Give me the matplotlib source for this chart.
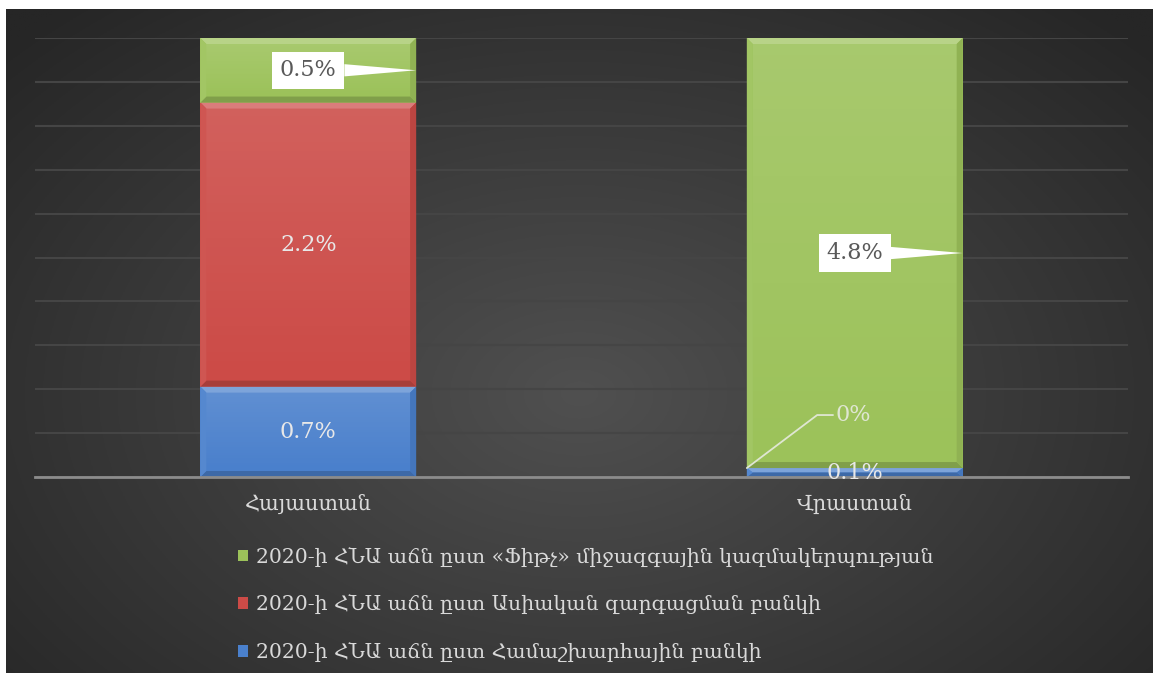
import numpy as np
import matplotlib.pyplot as plt
from matplotlib.patches import Polygon, Rectangle

plt.rcParams['font.family'] = ['DejaVu Serif', 'DejaVu Sans']

# ── data ──────────────────────────────────────────────────────────────
categories = ["Հայաստան", "Վրաստան"]
series_names = [
    "2020-ի ՀՆԱ աճն ըստ Համաշխարհային բանկի",
    "2020-ի ՀՆԱ աճն ըստ Ասիական զարգացման բանկի",
    "2020-ի ՀՆԱ աճն ըստ «Ֆիթչ» միջազգային կազմակերպության",
]
world_bank = [0.7, 0.1]
asian_bank = [2.2, 0.0]
fitch = [0.5, 4.8]

series = [world_bank, asian_bank, fitch]
colors = ["#4a80cc", "#cc4b47", "#9cc25a"]
# how each value label is drawn: plain / callout box / leader line
label_kind = [["plain", "plain"], ["plain", "leader"], ["callout", "callout"]]

W, H = 1153, 675
fig = plt.figure(figsize=(W / 100, H / 100), dpi=100, facecolor="white")

# ── dark radial background ───────────────────────────────────────────
bg = fig.add_axes([6 / W, 2 / H, 1147 / W, 664 / H], zorder=-10)
yy, xx = np.mgrid[0:1:300j, 0:1:500j]
r = np.clip(np.hypot((xx - 0.5) * 1.15, yy - 0.42) / 0.78, 0, 1)
c_in, c_out = np.array([0x50] * 3) / 255, np.array([0x26] * 3) / 255
bg.imshow(c_in + (c_out - c_in) * r[..., None], extent=(0, 1, 0, 1),
          origin="lower", aspect="auto")
bg.axis("off")

# ── main axes ────────────────────────────────────────────────────────
ax_l, ax_b, ax_w, ax_h = 35, 198, 1093, 439
ax = fig.add_axes([ax_l / W, ax_b / H, ax_w / W, ax_h / H])
ax.set_facecolor("none")

totals = np.sum(series, axis=0)
shares = [np.array(s) / totals for s in series]
bar_w = 0.395
px_x = ax_w / 2.0
px_y = ax_h / 1.0


def shade(c, f):
    c = np.array(plt.matplotlib.colors.to_rgb(c))
    return tuple(np.clip(c + (1 - c) * f if f > 0 else c * (1 + f), 0, 1))


bottom = np.zeros(len(categories))
bars = []
for share, col in zip(shares, colors):
    b = ax.bar(range(len(categories)), share, bar_w, bottom=bottom,
               color=col, zorder=3, linewidth=0)
    bars.append(b)
    # bevel look
    for rect in b:
        x0, y0 = rect.get_x(), rect.get_y()
        w, h = rect.get_width(), rect.get_height()
        if h <= 0:
            continue
        x1, y1 = x0 + w, y0 + h
        bx = min(6 / px_x, w / 2)
        by = min(6 / px_y, h / 2)
        polys = [
            ([(x0, y1), (x1, y1), (x1 - bx, y1 - by), (x0 + bx, y1 - by)], 0.28),
            ([(x0, y0), (x1, y0), (x1 - bx, y0 + by), (x0 + bx, y0 + by)], -0.18),
            ([(x0, y0), (x0 + bx, y0 + by), (x0 + bx, y1 - by), (x0, y1)], 0.06),
            ([(x1, y0), (x1 - bx, y0 + by), (x1 - bx, y1 - by), (x1, y1)], -0.08),
        ]
        for pts, f in polys:
            ax.add_patch(Polygon(pts, closed=True, fc=shade(col, f), ec="none", zorder=4))
        grad = np.linspace(0, 1, 50)[:, None, None] * np.ones((50, 2, 1))
        rgba = np.concatenate([np.ones((50, 2, 3)), grad * 0.12], axis=2)
        ax.imshow(rgba, extent=(x0 + bx, x1 - bx, y0 + by, y1 - by),
                  origin="lower", aspect="auto", zorder=3.5, interpolation="bilinear")
    bottom = bottom + share

ax.set_xlim(-0.5, 1.5)
ax.set_ylim(0, 1)

# ── value labels ─────────────────────────────────────────────────────
for si, (vals, b) in enumerate(zip(series, bars)):
    for ci, rect in enumerate(b):
        txt = f"{vals[ci]:g}%"
        cx = rect.get_x() + rect.get_width() / 2
        cy = rect.get_y() + rect.get_height() / 2
        kind = label_kind[si][ci]
        if kind == "plain":
            ax.text(cx, cy, txt, ha="center", va="center", fontsize=16,
                    color="#e8e8e8", zorder=6)
        elif kind == "callout":
            ax.annotate(txt, xy=(rect.get_x() + rect.get_width(), cy), xytext=(cx, cy),
                        ha="center", va="center", fontsize=16, color="#595959", zorder=6,
                        bbox=dict(boxstyle="square,pad=0.35", fc="white", ec="none"),
                        arrowprops=dict(arrowstyle="wedge,tail_width=0.55,shrink_factor=0.5",
                                        fc="white", ec="none", shrinkA=0, shrinkB=0))
        else:
            ax.annotate(txt, xy=(rect.get_x(), rect.get_y()), xytext=(89, 53),
                        textcoords="offset pixels", ha="left", va="center",
                        fontsize=16, color="#dfe6d2", zorder=6,
                        arrowprops=dict(arrowstyle="-", color="#dfe6d2", lw=1.3,
                                        connectionstyle="angle,angleA=0,angleB=37,rad=0",
                                        shrinkA=0, shrinkB=0))

# ── axes styling ─────────────────────────────────────────────────────
ax.set_yticks(np.arange(0, 1.01, 0.1))
ax.yaxis.grid(True, color="#454545", lw=1.5, zorder=0)
ax.set_axisbelow(True)
ax.tick_params(axis="y", length=0, labelleft=False)
ax.set_xticks(range(len(categories)), categories)
ax.tick_params(axis="x", length=0, pad=12, labelsize=15, labelcolor="#d9d9d9")
for s in ["left", "right", "top"]:
    ax.spines[s].set_visible(False)
ax.spines["bottom"].set_color("#8c8c8c")
ax.spines["bottom"].set_linewidth(2)
ax.spines["bottom"].set_zorder(5)

# ── legend ───────────────────────────────────────────────────────────
handles = [Rectangle((0, 0), 1, 1, fc=c, ec="none") for c in colors]
fig.legend(handles[::-1], series_names[::-1], loc="upper left",
           bbox_to_anchor=(238 / W, 1 - 547 / H), frameon=False, fontsize=14.7,
           labelcolor="#d9d9d9", handlelength=0.5, handleheight=0.5,
           handletextpad=0.4, labelspacing=1.35, borderaxespad=0, borderpad=0)

fig.savefig("out.png", dpi=100, facecolor="white")
